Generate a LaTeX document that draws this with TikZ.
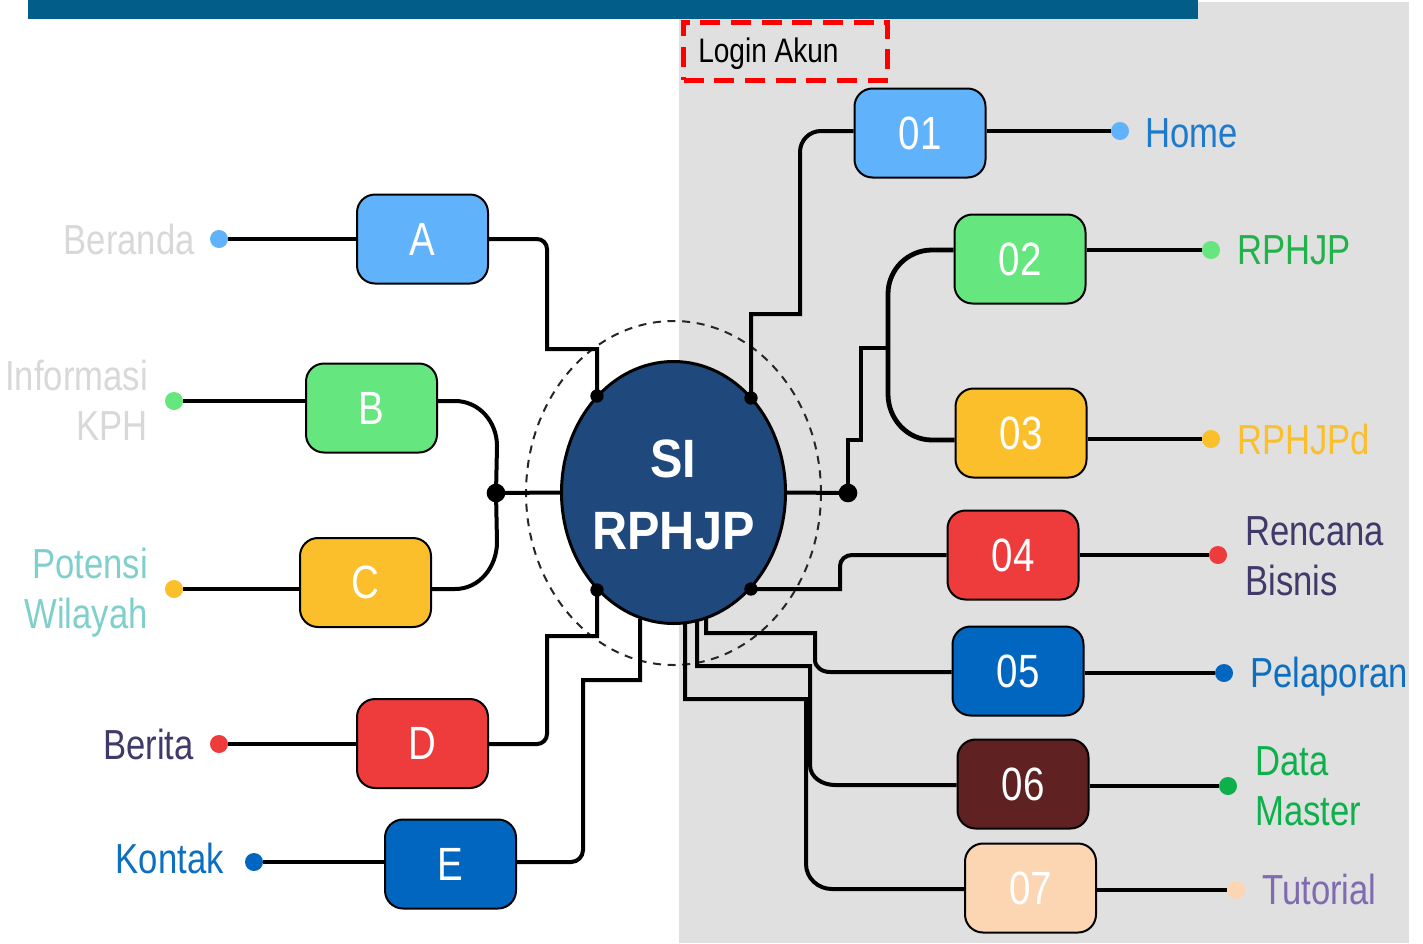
\documentclass[tikz,border=0pt]{standalone}
\usepackage{fontspec}
\setmainfont{Liberation Sans}
\newfontfamily\nar[FakeStretch=0.825]{Liberation Sans}
\newfontfamily\hubfont[FakeStretch=0.9]{Liberation Sans}
\usetikzlibrary{shapes.geometric}
\pgfdeclarelayer{back}
\pgfdeclarelayer{wires}
\pgfsetlayers{back,wires,main}

% palette
\definecolor{barblue}{HTML}{025E88}
\definecolor{panelgray}{HTML}{E0E0E0}
\definecolor{hubblue}{HTML}{1F497C}
\definecolor{cBlueL}{HTML}{60B3FA}
\definecolor{cGreenL}{HTML}{66E67E}
\definecolor{cYellow}{HTML}{FBBF2B}
\definecolor{cRed}{HTML}{EE3B3B}
\definecolor{cBlue}{HTML}{0066C0}
\definecolor{cBrown}{HTML}{5F2121}
\definecolor{cPeach}{HTML}{FCD5B3}
\definecolor{cGreen}{HTML}{0DB04B}
\definecolor{tGray}{HTML}{D8D8D8}
\definecolor{tTeal}{HTML}{7FD0CC}
\definecolor{tPurpleD}{HTML}{403A6A}
\definecolor{tBlue}{HTML}{0E6FC1}
\definecolor{tHome}{HTML}{1E7ACC}
\definecolor{tGreen}{HTML}{22B24C}
\definecolor{tPurple}{HTML}{7E6BB0}

\begin{document}
\begin{tikzpicture}[x=0.75pt,y=-0.75pt,
  wireL/.style={line width=3.6pt},
  wire/.style={line width=3pt},
  wireR/.style={line width=2.4pt},
  menubox/.style={draw=black, line width=1.5pt, rounded corners=13.5pt,
    minimum width=98.25pt, minimum height=66.75pt, inner sep=0pt,
    text=white, text depth=0pt, font=\nar\fontsize{35}{38}\selectfont},
  dotmark/.style={circle, inner sep=0pt, minimum size=13.5pt},
  bigjoin/.style={circle, fill=black, inner sep=0pt, minimum size=14pt},
  smalljoin/.style={circle, fill=black, inner sep=0pt, minimum size=10pt},
  lbl/.style={inner sep=0pt, text depth=0pt, font=\nar\fontsize{31.5}{37.5}\selectfont}]

\useasboundingbox (0,0) rectangle (1423,943);

% logged-in area, header bar and halo
\begin{pgfonlayer}{back}
\fill[white] (0,0) rectangle (1423,943);
\fill[panelgray] (679,2) rectangle (1409,943);
\draw[black!85, line width=1.5pt, dash pattern=on 6pt off 5pt] (673.5,493) ellipse [x radius=110.6pt, y radius=129pt];
\end{pgfonlayer}
\node[draw=red, line width=3.75pt, dash pattern=on 15pt off 8pt,
      minimum width=153pt, minimum height=43.5pt, inner sep=0pt] (loginbox) at (785.5,51) {};
\fill[barblue] (28,0) rectangle (1198,19);
\node[inner sep=0pt, text depth=0pt, anchor=west, font=\nar\fontsize{25.5}{30}\selectfont] (login) at (698,50) {Login Akun};

% hub
\node[ellipse, draw=black, fill=hubblue, line width=2.25pt, inner sep=0pt,
      minimum width=168pt, minimum height=196.5pt] (hub) at (673.5,492.5) {};
\node[text=white, align=center, inner sep=0pt, text depth=0pt,
      font=\hubfont\bfseries\fontsize{40.5}{54}\selectfont] (hubtext) at (673.5,495) {SI\\RPHJP};

% junction points
\coordinate (jA) at (597,396);
\coordinate (jD) at (597,590);
\coordinate (jE) at (640,619);
\coordinate (j01) at (751,398);
\coordinate (j04) at (751,589);
\coordinate (j05) at (706,619);
\coordinate (j06) at (697,622);
\coordinate (j07) at (685,624);
\coordinate (jL) at (496,493);
\coordinate (jR) at (848,493);
\coordinate (jS) at (888,348);

% left menu
\node[menubox, fill=cBlueL]  (A) at (422.5,239) {A};
\node[menubox, fill=cGreenL] (B) at (371.5,408) {B};
\node[menubox, fill=cYellow] (C) at (365.5,582.5) {C};
\node[menubox, fill=cRed]    (D) at (422.5,743.5) {D};
\node[menubox, fill=cBlue]   (E) at (450.5,864) {E};

% right menu
\node[menubox, fill=cBlueL]  (m01) at (920,133) {01};
\node[menubox, fill=cGreenL] (m02) at (1020,259) {02};
\node[menubox, fill=cYellow] (m03) at (1021,433) {03};
\node[menubox, fill=cRed]    (m04) at (1013,555) {04};
\node[menubox, fill=cBlue]   (m05) at (1018,671) {05};
\node[menubox, fill=cBrown]  (m06) at (1023,784) {06};
\node[menubox, fill=cPeach]  (m07) at (1030.5,888) {07};

% end dots
\node[dotmark, fill=cBlueL]  (dBer) at (219,239) {};
\node[dotmark, fill=cGreenL] (dInf) at (174,401) {};
\node[dotmark, fill=cYellow] (dPot) at (174,589) {};
\node[dotmark, fill=cRed]    (dBrt) at (219,744) {};
\node[dotmark, fill=cBlue]   (dKon) at (254,862) {};
\node[dotmark, fill=cBlueL]  (dHome) at (1120,131) {};
\node[dotmark, fill=cGreenL] (dRp) at (1211,250) {};
\node[dotmark, fill=cYellow] (dRpd) at (1211,439) {};
\node[dotmark, fill=cRed]    (dRb) at (1218,555) {};
\node[dotmark, fill=cBlue]   (dPel) at (1224,673) {};
\node[dotmark, fill=cGreen]  (dDm) at (1228,786) {};
\node[dotmark, fill=cPeach]  (dTut) at (1236,890) {};

\begin{pgfonlayer}{wires}
% left connectors
\draw[wireL] (dBer) -- (dBer -| A.west);
\draw[wire] (A.east) -- (537,239) to[out=0,in=90] (547,249) -- (547,349) -- (597,349) -- (jA);
\draw[wireL] (dInf) -- (dInf -| B.west);
\draw[wire] (B.east |- dInf) -- (455,401) to[out=0,in=90] (497,446) -- (jL);
\draw[wireL] (dPot) -- (dPot -| C.west);
\draw[wire] (C.east |- dPot) -- (455,589) to[out=0,in=-90] (497,542) -- (jL);
\draw[wire] (jL) -- (hub.west);
\draw[wireL] (dBrt) -- (dBrt -| D.west);
\draw[wire] (D.east |- dBrt) -- (537,744) to[out=0,in=-90] (547,734) -- (547,636) -- (597,636) -- (jD);
\draw[wireL] (dKon) -- (dKon -| E.west);
\draw[wire] (E.east |- dKon) -- (571,862) to[out=0,in=-90] (583,850) -- (583,680) -- (640,680) -- (jE);

% right connectors
\draw[wire] (j01) -- (751,314) -- (800,314) -- (800,152) to[out=90,in=180] (821,131) -- (m01.west |- 0,131);
\draw[wireR] (m01.east |- dHome) -- (dHome);
\draw[wire] (hub.east) -- (jR);
\draw[wire] (jR) -- (848,440) -- (861,440) -- (861,348) -- (jS);
\draw[wireL] (jS) -- (888,294) to[out=90,in=180] (932,250) -- (m02.west |- 0,250);
\draw[wireL] (jS) -- (888,394) to[out=-90,in=180] (932,440) -- (m03.west |- 0,440);
\draw[wireL] (m02.east |- dRp) -- (dRp);
\draw[wireL] (m03.east |- dRpd) -- (dRpd);
\draw[wire] (j04) -- (840,589) -- (840,566) to[out=90,in=180] (852,555) -- (m04.west);
\draw[wireR] (m04.east) -- (dRb);
\draw[wire] (j05) -- (706,633) -- (815,633) -- (815,660) to[out=-90,in=180] (830,672) -- (m05.west |- 0,672);
\draw[wireR] (m05.east |- dPel) -- (dPel);
\draw[wire] (j06) -- (697,666) -- (810,666) -- (810,765) to[out=-90,in=180] (835,785) -- (m06.west |- 0,785);
\draw[wireR] (m06.east |- dDm) -- (dDm);
\draw[wire] (j07) -- (685,699) -- (806,699) -- (806,864) to[out=-90,in=180] (832,889) -- (m07.west |- 0,889);
\draw[wireR] (m07.east |- dTut) -- (dTut);
\end{pgfonlayer}

\node[bigjoin] (nL) at (jL) {};
\node[bigjoin] (nR) at (jR) {};
\node[smalljoin] (nA) at (jA) {};
\node[smalljoin] (nD) at (jD) {};
\node[smalljoin] (n01) at (j01) {};
\node[smalljoin] (n04) at (j04) {};

% labels
\node[lbl, anchor=east, text=tGray] (lBer) at (195,239) {Beranda};
\node[lbl, anchor=east, align=right, text=tGray] (lInf) at (148,400) {Informasi\\KPH};
\node[lbl, anchor=east, align=right, text=tTeal] (lPot) at (148,588) {Potensi\\Wilayah};
\node[lbl, anchor=east, text=tPurpleD] (lBrt) at (194,744) {Berita};
\node[lbl, anchor=east, text=tBlue] (lKon) at (224,858) {Kontak};

\node[lbl, anchor=west, text=tHome] (lHome) at (1145,133) {Home};
\node[lbl, anchor=west, text=tGreen] (lRp) at (1237,250) {RPHJP};
\node[lbl, anchor=west, text=cYellow] (lRpd) at (1237,439) {RPHJPd};
\node[lbl, anchor=west, align=left, text=tPurpleD] (lRb) at (1245,556) {Rencana\\Bisnis};
\node[lbl, anchor=west, text=tBlue] (lPel) at (1250,672) {Pelaporan};
\node[lbl, anchor=west, align=left, text=cGreen] (lDm) at (1255,786) {Data\\Master};
\node[lbl, anchor=west, text=tPurple] (lTut) at (1262,889) {Tutorial};
\end{tikzpicture}
\end{document}
